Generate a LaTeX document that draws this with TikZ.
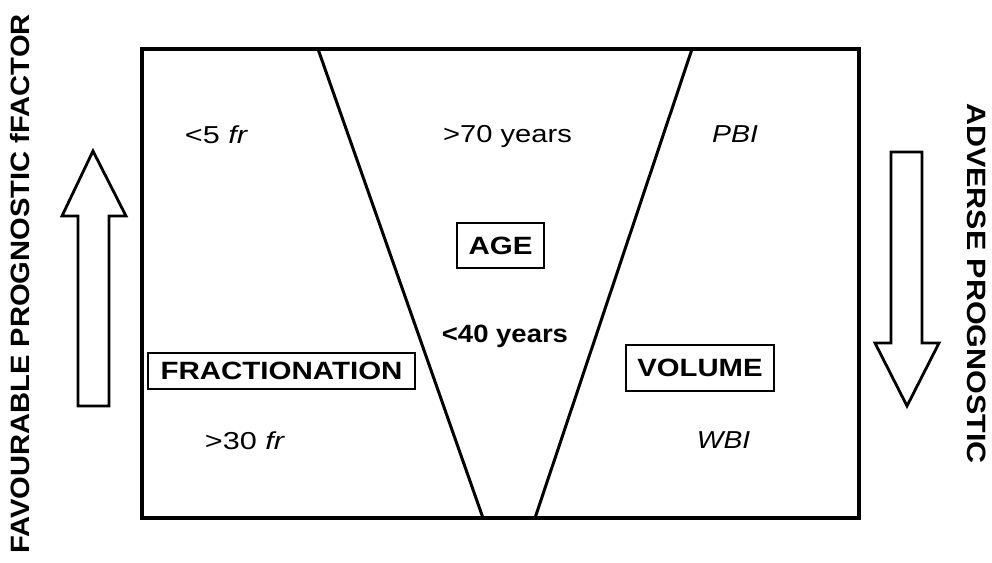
\documentclass[tikz,border=0pt]{standalone}
\usepackage{graphicx}
\usepackage{fontspec}
\setmainfont{Liberation Sans}
% widened lettering used throughout the figure
\newcommand{\wide}[2]{\scalebox{#1}[1]{#2}}
\begin{document}
\begin{tikzpicture}[x=1pt,y=-1pt,
  frame/.style={line width=3.4pt},
  vline/.style={line width=3pt},
  hollow/.style={line width=2.8pt,line join=miter,fill=white},
  lbl/.style={inner sep=0pt,anchor=base,font=\fontsize{24.5}{28}\selectfont},
  blbl/.style={inner sep=0pt,anchor=base,font=\fontsize{25}{28}\selectfont\bfseries},
  tagbox/.style={draw,line width=2pt,inner sep=0pt,font=\fontsize{25}{28}\selectfont\bfseries},
  side/.style={inner sep=0pt,font=\fontsize{26.5}{30}\selectfont\bfseries}]
\useasboundingbox (0,0) rectangle (992,562);

% outer frame
\coordinate (tl) at (142,49);
\coordinate (br) at (859,518);
\draw[frame] (tl) rectangle (br);

% the funnel between the two side fields
\coordinate (v1) at (318,49);
\coordinate (v2) at (483,518);
\coordinate (v3) at (692,49);
\coordinate (v4) at (535,518);
\draw[vline] (v1) -- (v2);
\draw[vline] (v3) -- (v4);

% labels inside the frame
\node[lbl] (lt) at (216.5,143) {\wide{1.25}{<5 \textit{fr}}};
\node[lbl] (mt) at (507.5,142) {\wide{1.19}{>70 years}};
\node[lbl] (rt) at (735,142) {\wide{1.16}{\textit{PBI}}};
\node[tagbox,minimum width=87pt,minimum height=45pt] (age) at (500.5,245.5) {\wide{1.18}{AGE}};
\node[blbl] (mm) at (505,342) {\wide{1.1}{<40 years}};
\node[tagbox,minimum width=267pt,minimum height=36pt] (frac) at (281.5,371) {\wide{1.18}{FRACTIONATION}};
\node[tagbox,minimum width=148pt,minimum height=46pt] (vol) at (700,368) {\wide{1.17}{VOLUME}};
\node[lbl] (lb) at (245,449) {\wide{1.25}{>30 \textit{fr}}};
\node[lbl] (rb) at (723.5,448) {\wide{1.15}{\textit{WBI}}};

% hollow arrows
\draw[hollow] (78,406) -- (78,216) -- (62,216) -- (93,151) -- (126,216) -- (109,216) -- (109,406) -- cycle;
\draw[hollow] (891,152) -- (891,343) -- (875,343) -- (907,406) -- (939,343) -- (922,343) -- (922,152) -- cycle;

% side captions
\node[side,rotate=90] (fav) at (20,284) {\wide{1.1}{FAVOURABLE PROGNOSTIC fFACTOR}};
\node[side,rotate=-90] (adv) at (977,283.5) {\wide{1.15}{ADVERSE PROGNOSTIC}};
\end{tikzpicture}
\end{document}
